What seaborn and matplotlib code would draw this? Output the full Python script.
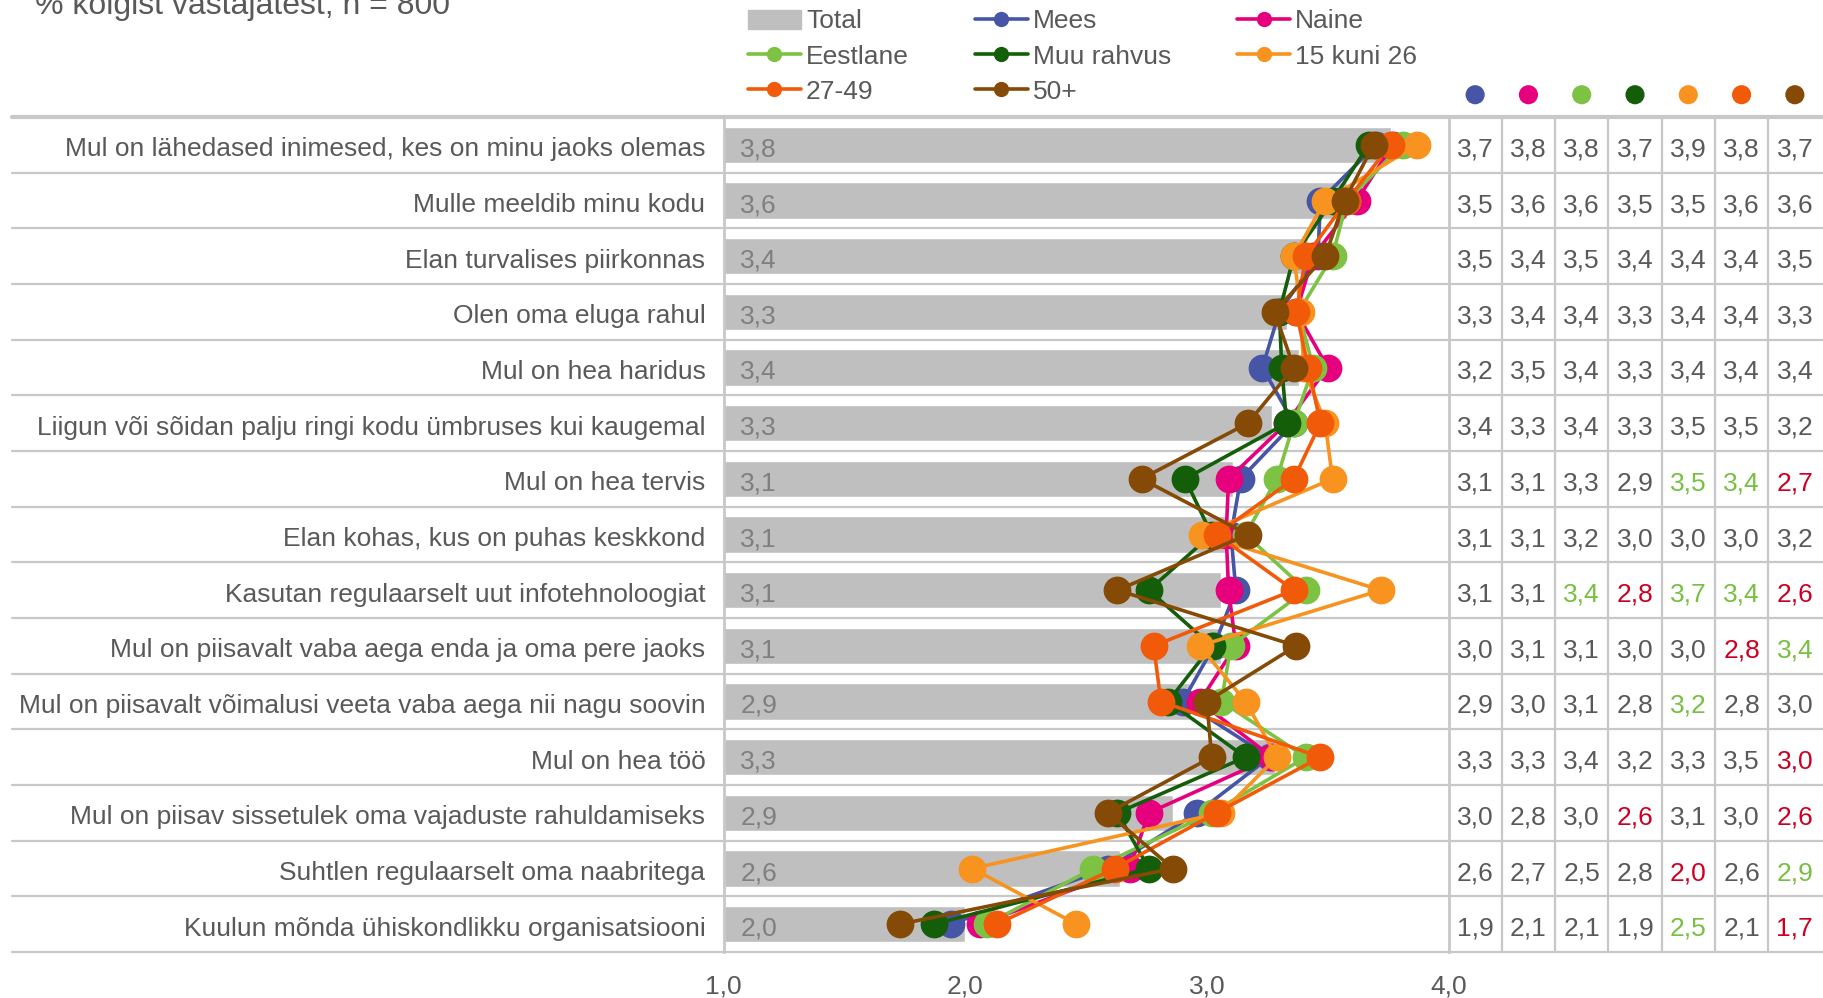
import pandas as pd
import seaborn as sns
import matplotlib.pyplot as plt
import matplotlib.transforms as mtransforms
from matplotlib.lines import Line2D
from matplotlib.patches import Patch

# statements, top to bottom
statements = [
    "Mul on lähedased inimesed, kes on minu jaoks olemas",
    "Mulle meeldib minu kodu",
    "Elan turvalises piirkonnas",
    "Olen oma eluga rahul",
    "Mul on hea haridus",
    "Liigun või sõidan palju ringi kodu ümbruses kui kaugemal",
    "Mul on hea tervis",
    "Elan kohas, kus on puhas keskkond",
    "Kasutan regulaarselt uut infotehnoloogiat",
    "Mul on piisavalt vaba aega enda ja oma pere jaoks",
    "Mul on piisavalt võimalusi veeta vaba aega nii nagu soovin",
    "Mul on hea töö",
    "Mul on piisav sissetulek oma vajaduste rahuldamiseks",
    "Suhtlen regulaarselt oma naabritega",
    "Kuulun mõnda ühiskondlikku organisatsiooni",
]

total = [3.76, 3.58, 3.42, 3.33, 3.38, 3.27, 3.11, 3.08, 3.06, 3.06, 2.93, 3.28, 2.86, 2.64, 2.00]

mees = [3.70, 3.47, 3.46, 3.30, 3.23, 3.36, 3.14, 3.10, 3.12, 3.03, 2.90, 3.26, 2.96, 2.59, 1.94]
naine = [3.77, 3.62, 3.44, 3.37, 3.50, 3.33, 3.09, 3.08, 3.09, 3.12, 2.97, 3.27, 2.76, 2.68, 2.06]
eestlane = [3.81, 3.58, 3.52, 3.38, 3.44, 3.36, 3.29, 3.16, 3.41, 3.10, 3.06, 3.41, 3.02, 2.53, 2.09]
muu_rahvus = [3.67, 3.52, 3.36, 3.30, 3.31, 3.33, 2.91, 3.02, 2.76, 3.02, 2.84, 3.16, 2.63, 2.76, 1.87]
age_15_26 = [3.87, 3.49, 3.36, 3.39, 3.40, 3.49, 3.52, 2.98, 3.72, 2.97, 3.16, 3.29, 3.06, 2.03, 2.46]
age_27_49 = [3.76, 3.58, 3.41, 3.37, 3.42, 3.47, 3.36, 3.04, 3.36, 2.78, 2.81, 3.47, 3.04, 2.62, 2.13]
age_50 = [3.69, 3.57, 3.49, 3.28, 3.36, 3.17, 2.73, 3.17, 2.63, 3.37, 3.00, 3.02, 2.59, 2.86, 1.73]

groups = ["Mees", "Naine", "Eestlane", "Muu rahvus", "15 kuni 26", "27-49", "50+"]
series = [mees, naine, eestlane, muu_rahvus, age_15_26, age_27_49, age_50]
colors = ["#4655A5", "#E6007E", "#7DC242", "#145E0A", "#F7931E", "#F15A09", "#844A06"]

# table cells that are significantly higher / lower (row, group)
higher = [(6, "15 kuni 26"), (6, "27-49"), (8, "Eestlane"), (8, "15 kuni 26"), (8, "27-49"),
          (9, "50+"), (10, "15 kuni 26"), (13, "50+"), (14, "15 kuni 26")]
lower = [(6, "50+"), (8, "Muu rahvus"), (8, "50+"), (9, "27-49"), (11, "50+"),
         (12, "Muu rahvus"), (12, "50+"), (13, "15 kuni 26"), (14, "50+")]

x_ticks = [1, 2, 3, 4]
x_tick_labels = ["1,0", "2,0", "3,0", "4,0"]

sns.set_style("white")
plt.rcParams['font.family'] = ['Liberation Sans', 'DejaVu Sans']

TXT = "#595959"
GRID = "#C8C8C8"
FS = 19


def fmt(v):
    return f"{v:.1f}".replace(".", ",")


W, H = 1823, 998
fig = plt.figure(figsize=(W / 100, H / 100), dpi=100)
top_px, bot_px = 117, 952
left_px, right_px = 723.5, 1448.5
ax = fig.add_axes([left_px / W, 1 - bot_px / H, (right_px - left_px) / W, (bot_px - top_px) / H])

# small downward nudge for text inside the rows
down = mtransforms.ScaledTranslation(0, -2 / 100, fig.dpi_scale_trans)

# bars for total
sns.barplot(x=total, y=statements, orient="h", color="#BFBFBF", saturation=1,
            width=0.65, ax=ax, zorder=1)

# group lines
long_df = pd.DataFrame({
    "pos": [i for _ in groups for i in range(len(statements))],
    "value": [v for s in series for v in s],
    "group": [g for g in groups for _ in statements],
})
sns.lineplot(data=long_df, x="value", y="pos", hue="group", hue_order=groups,
             palette=colors, sort=False, orient="y", estimator=None,
             marker="o", markersize=20, markeredgewidth=0, linewidth=2.6,
             legend=False, ax=ax, zorder=3)

for i, v in enumerate(total):
    ax.text(1.07, i, fmt(v), ha="left", va="center_baseline", fontsize=FS,
            color="#7F7F7F", zorder=2, transform=ax.transData + down)

ax.set_xlim(1, 4)
ax.set_ylim(len(statements) - 0.5, -0.5)
ax.set_xticks(x_ticks)
ax.set_xticklabels(x_tick_labels)
ax.set_xlabel("")
ax.set_ylabel("")
ax.tick_params(axis="x", length=0, pad=16, labelsize=FS, labelcolor=TXT)
ax.tick_params(axis="y", length=0, pad=13, labelsize=FS, labelcolor=TXT)
for lab in ax.get_yticklabels():
    lab.set_transform(lab.get_transform() + down)
for side in ["top", "bottom"]:
    ax.spines[side].set_visible(False)
for side in ["left", "right"]:
    ax.spines[side].set_color(GRID)
    ax.spines[side].set_linewidth(2)

# row separators across the whole figure
trans = mtransforms.blended_transform_factory(fig.transFigure, ax.transData)
for k in range(len(statements) + 1):
    ax.add_line(Line2D([12 / W, 1], [k - 0.5, k - 0.5], transform=trans, color=GRID,
                       lw=3 if k == 0 else 1.6, clip_on=False, zorder=0))

# table on the right
ax_tab = fig.add_axes([right_px / W, 1 - bot_px / H, 1 - right_px / W, (bot_px - top_px) / H])
ax_tab.axis("off")
ax_tab.vlines(range(1, len(groups)), -0.5, len(statements) - 0.5, color=GRID, lw=1.6)
for j, (g, s) in enumerate(zip(groups, series)):
    for i, v in enumerate(s):
        c = TXT
        if (i, g) in higher:
            c = "#77C043"
        elif (i, g) in lower:
            c = "#CC0022"
        ax_tab.text(j + 0.5, i, fmt(v), ha="center", va="center_baseline", fontsize=FS,
                    color=c, transform=ax_tab.transData + down)

sns.scatterplot(x=[j + 0.5 for j in range(len(groups))], y=[-0.9] * len(groups),
                hue=groups, hue_order=groups, palette=colors, s=190, linewidth=0,
                legend=False, ax=ax_tab, clip_on=False)
ax_tab.set_ylim(len(statements) - 0.5, -0.5)
ax_tab.set_xlim(0, len(groups) * 1.004)

# legend
handles = [Patch(color="#BFBFBF")] + [
    Line2D([], [], color=c, marker="o", markersize=11, markeredgewidth=0, lw=2.6) for c in colors
]
labels = ["Total"] + groups
order = [0, 3, 6, 1, 4, 7, 2, 5]
fig.legend([handles[i] for i in order], [labels[i] for i in order], ncol=3,
           loc="upper left", bbox_to_anchor=(748 / W, 1 - 9.5 / H), frameon=False,
           fontsize=FS, labelcolor=TXT, handlelength=2.0, handletextpad=0.2,
           columnspacing=2.5, labelspacing=0.42, borderpad=0, borderaxespad=0)

fig.text(35 / W, 1 - 14 / H, "% kõigist vastajatest, n = 800", fontsize=23,
         color=TXT, va="baseline", ha="left")

fig.savefig("out.png", dpi=100)
